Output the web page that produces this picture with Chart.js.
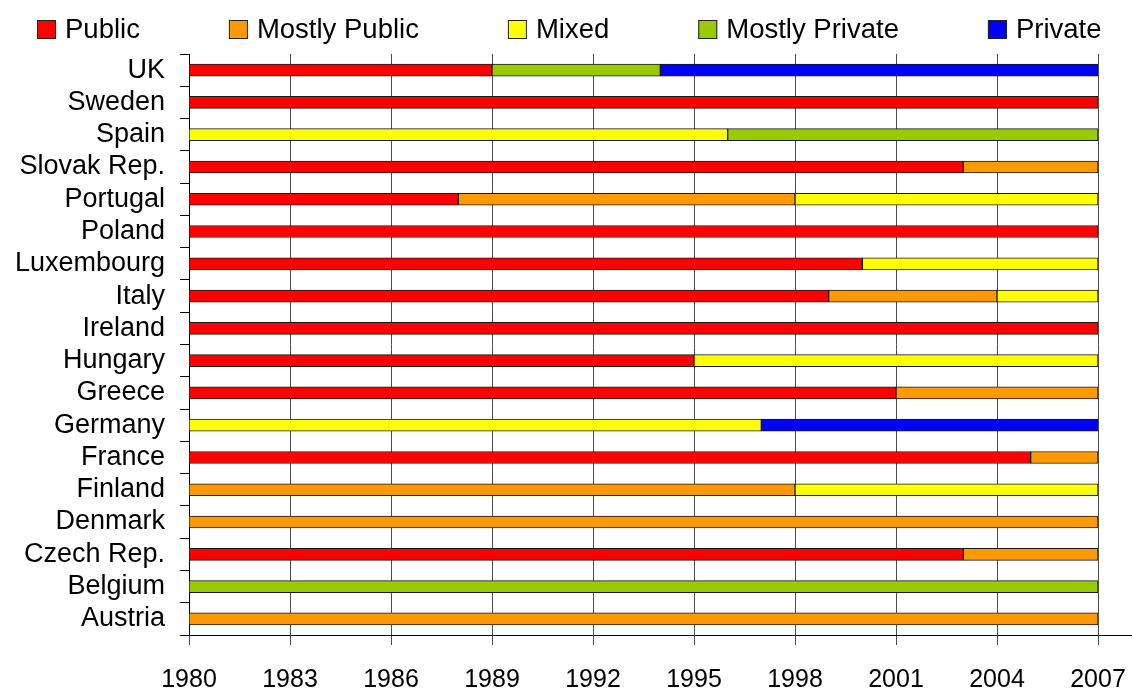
<!DOCTYPE html>
<html lang="en">
<head>
  <meta charset="UTF-8" />
  <title>Ownership status by country, 1980-2007</title>
  <script src="https://cdn.jsdelivr.net/npm/chart.js"></script>
  <style>
    body { margin: 0; background: #fff; }
    .chart-box { width: 1132px; height: 693px; position: relative; }
  </style>
</head>
<body>
  <div class="chart-box">
    <canvas id="ownChart"></canvas>
  </div>
  <script>
    // Countries, top to bottom
    const countries = ['UK', 'Sweden', 'Spain', 'Slovak Rep.', 'Portugal', 'Poland', 'Luxembourg', 'Italy',
      'Ireland', 'Hungary', 'Greece', 'Germany', 'France', 'Finland', 'Denmark', 'Czech Rep.', 'Belgium', 'Austria'];

    // [from, to] year spans for each status, one entry per country
    const publicSpans = [[1980, 1989], [1980, 2007], null, [1980, 2003], [1980, 1988], [1980, 2007], [1980, 2000], [1980, 1999],
      [1980, 2007], [1980, 1995], [1980, 2001], null, [1980, 2005], null, null, [1980, 2003], null, null];
    const mostlyPublicSpans = [null, null, null, [2003, 2007], [1988, 1998], null, null, [1999, 2004],
      null, null, [2001, 2007], null, [2005, 2007], [1980, 1998], [1980, 2007], [2003, 2007], null, [1980, 2007]];
    const mixedSpans = [null, null, [1980, 1996], null, [1998, 2007], null, [2000, 2007], [2004, 2007],
      null, [1995, 2007], null, [1980, 1997], null, [1998, 2007], null, null, null, null];
    const mostlyPrivateSpans = [[1989, 1994], null, [1996, 2007], null, null, null, null, null,
      null, null, null, null, null, null, null, null, [1980, 2007], null];
    const privateSpans = [[1994, 2007], null, null, null, null, null, null, null,
      null, null, null, [1997, 2007], null, null, null, null, null, null];

    const statusLabels = ['Public', 'Mostly Public', 'Mixed', 'Mostly Private', 'Private'];
    const statusColors = ['#ff0000', '#ff9900', '#ffff00', '#99cc00', '#0000ff'];
    const allSpans = [publicSpans, mostlyPublicSpans, mixedSpans, mostlyPrivateSpans, privateSpans];

    const FONT = 'Liberation Sans, Arial, sans-serif';

    // Legend drawn by hand: wide gaps between items like the original
    const topLegend = {
      id: 'topLegend',
      afterDraw(chart) {
        const ctx = chart.ctx;
        ctx.save();
        ctx.font = '27.5px ' + FONT;
        ctx.textBaseline = 'middle';
        let x = 37;
        const y = 29.5;
        statusLabels.forEach((lbl, i) => {
          ctx.fillStyle = statusColors[i];
          ctx.fillRect(x, y - 9.5, 19, 19);
          ctx.strokeStyle = '#222';
          ctx.lineWidth = 1;
          ctx.strokeRect(x + 0.5, y - 9, 18, 18);
          ctx.fillStyle = '#000';
          ctx.fillText(lbl, x + 28, y + 1);
          x += 28 + ctx.measureText(lbl).width + 89;
        });
        // bottom axis line runs on to the right edge
        const area = chart.chartArea;
        ctx.strokeStyle = '#000';
        ctx.beginPath();
        ctx.moveTo(area.right, Math.round(area.bottom) + 0.5);
        ctx.lineTo(chart.width, Math.round(area.bottom) + 0.5);
        ctx.stroke();
        ctx.restore();
      }
    };

    const datasets = statusLabels.map((lbl, i) => ({
      label: lbl,
      data: allSpans[i],
      backgroundColor: statusColors[i],
      borderColor: '#1a1a1a',
      borderWidth: 1,
      borderSkipped: false,
      barThickness: 12,
      grouped: false
    }));

    new Chart(document.getElementById('ownChart'), {
      type: 'bar',
      data: { labels: countries, datasets: datasets },
      options: {
        indexAxis: 'y',
        responsive: true,
        maintainAspectRatio: false,
        animation: false,
        layout: { padding: { top: 54, left: 0, right: 34, bottom: 0 } },
        plugins: {
          legend: { display: false },
          tooltip: { enabled: false }
        },
        scales: {
          x: {
            type: 'linear',
            min: 1980,
            max: 2007,
            afterFit: s => { s.height = 58; s.paddingLeft = 0; s.paddingRight = 0; },
            ticks: {
              stepSize: 3,
              color: '#000',
              font: { family: FONT, size: 25 },
              padding: 20,
              maxRotation: 0,
              callback: v => String(v)
            },
            grid: { color: '#4d4d4d', lineWidth: 1, tickLength: 10 },
            border: { display: true, color: '#000' }
          },
          y: {
            type: 'category',
            offset: true,
            afterFit: s => { s.width = 189; },
            ticks: {
              color: '#000',
              font: { family: FONT, size: 27 },
              padding: 15,
              autoSkip: false
            },
            grid: { offset: true, drawOnChartArea: false, color: '#000', tickLength: 9 },
            border: { display: true, color: '#000' }
          }
        }
      },
      plugins: [topLegend]
    });
  </script>
</body>
</html>
